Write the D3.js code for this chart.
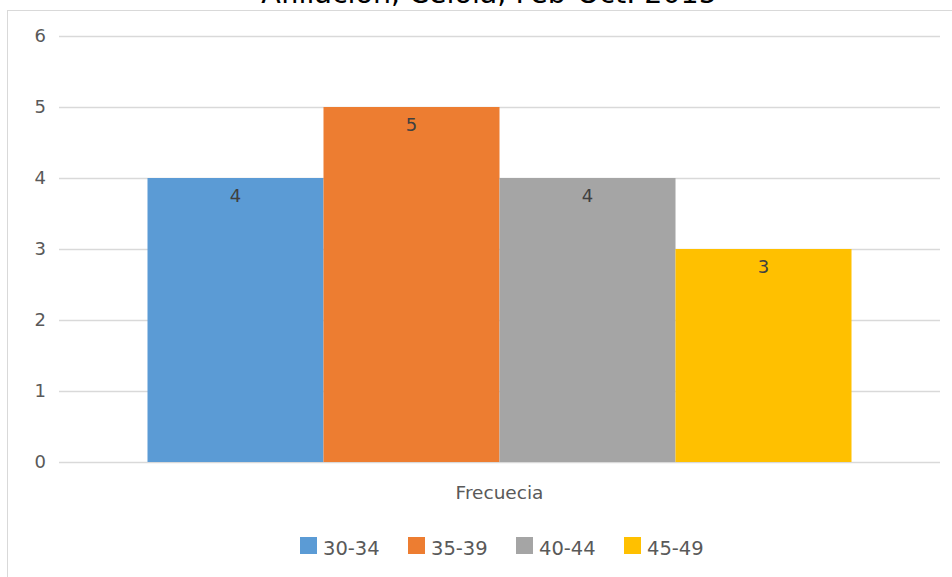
<!DOCTYPE html>
<html>
<head>
<meta charset="utf-8">
<script src="https://cdn.jsdelivr.net/npm/d3@7"></script>
<style>
  html, body { margin: 0; padding: 0; background: #fff; }
  svg { display: block; }
</style>
</head>
<body>
<svg id="chart" width="952" height="577"></svg>
<script>
// Age groups and their frequency
const categories = ["30-34", "35-39", "40-44", "45-49"];
const values = [4, 5, 4, 3];
const colors = ["#5b9bd5", "#ed7d31", "#a5a5a5", "#ffc000"];
const yTicks = [0, 1, 2, 3, 4, 5, 6];
const axisLabel = "Frecuecia";
const titleText = "Afiliación, Celola, Feb-Oct. 2015";

const W = 952, H = 577;
const font = "'DejaVu Sans', 'Liberation Sans', sans-serif";
const svg = d3.select("#chart");

// Chart frame
svg.append("line").attr("x1", 7).attr("x2", W).attr("y1", 10.5).attr("y2", 10.5)
  .attr("stroke", "#d9d9d9").attr("stroke-width", 1);
svg.append("line").attr("x1", 7.5).attr("x2", 7.5).attr("y1", 10).attr("y2", H)
  .attr("stroke", "#d9d9d9").attr("stroke-width", 1);

// Title (its upper part runs past the top edge)
svg.append("text").attr("x", 489).attr("y", 3)
  .attr("text-anchor", "middle").attr("font-family", font)
  .attr("font-size", 28.5).attr("fill", "#000").text(titleText);

const plot = { left: 59, right: 940, top: 36, bottom: 462 };

const y = d3.scaleLinear().domain([0, 6]).range([plot.bottom, plot.top]);
const outer = d3.scaleBand().domain([axisLabel]).range([plot.left, plot.right])
  .paddingInner(0).paddingOuter(0.1257);
const x = d3.scaleBand().domain(categories)
  .range([outer(axisLabel), outer(axisLabel) + outer.bandwidth()]).padding(0);

// Gridlines
svg.append("g").selectAll("line").data(yTicks).join("line")
  .attr("x1", plot.left).attr("x2", plot.right)
  .attr("y1", d => Math.round(y(d)) + 0.5).attr("y2", d => Math.round(y(d)) + 0.5)
  .attr("stroke", "#d9d9d9").attr("stroke-width", 1.5);

// Y axis labels
const yAxis = d3.axisLeft(y).tickValues(yTicks).tickSize(0).tickPadding(0).tickFormat(d3.format("d"));
const gy = svg.append("g").attr("transform", "translate(46,0)").call(yAxis);
gy.select(".domain").remove();
gy.selectAll("text").attr("font-family", font).attr("font-size", 18).attr("fill", "#595959");

// Bars
svg.append("g").selectAll("rect").data(values).join("rect")
  .attr("x", (d, i) => x(categories[i]))
  .attr("y", d => y(d))
  .attr("width", x.bandwidth())
  .attr("height", d => y(0) - y(d))
  .attr("fill", (d, i) => colors[i]);

// Value labels
svg.append("g").selectAll("text").data(values).join("text")
  .attr("x", (d, i) => x(categories[i]) + x.bandwidth() / 2)
  .attr("y", d => y(d) + 24)
  .attr("text-anchor", "middle").attr("font-family", font)
  .attr("font-size", 18).attr("fill", "#404040")
  .text(d => d);

// Category axis label
svg.append("text").attr("x", outer(axisLabel) + outer.bandwidth() / 2).attr("y", 499)
  .attr("text-anchor", "middle").attr("font-family", font)
  .attr("font-size", 18.5).attr("fill", "#595959").text(axisLabel);

// Legend
const legend = svg.append("g").selectAll("g").data(categories).join("g")
  .attr("transform", (d, i) => `translate(${300 + i * 108},537)`);
legend.append("rect").attr("width", 17).attr("height", 17)
  .attr("fill", (d, i) => colors[i]);
legend.append("text").attr("x", 23).attr("y", 18)
  .attr("font-family", font).attr("font-size", 19.5).attr("fill", "#595959")
  .text(d => d);
</script>
</body>
</html>
